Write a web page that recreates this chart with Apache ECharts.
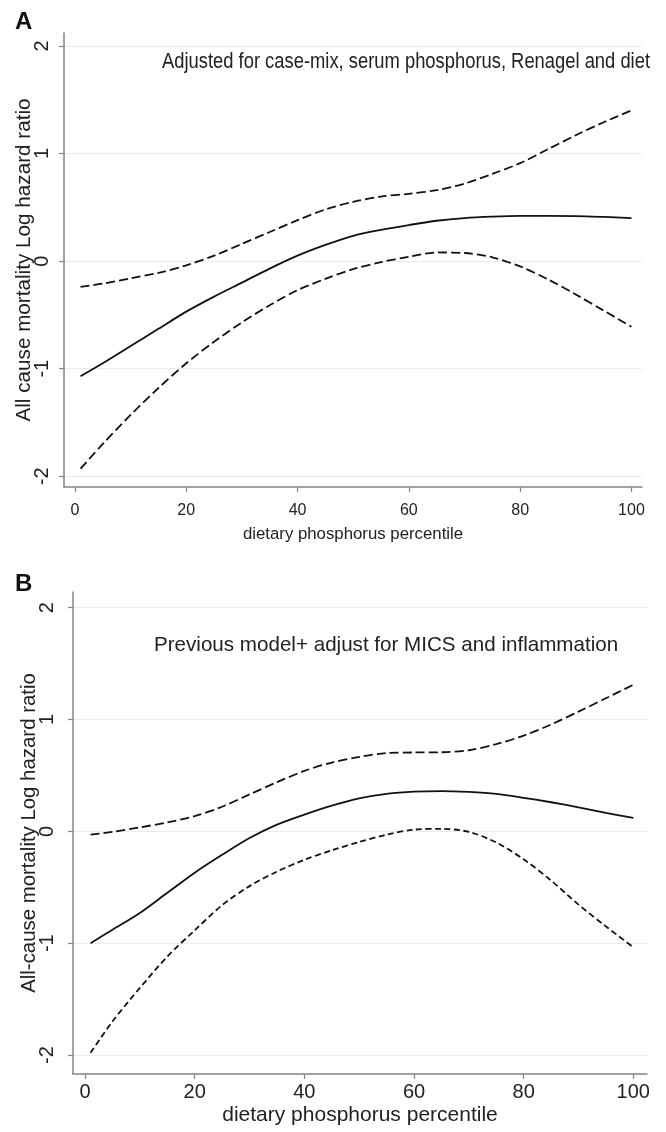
<!DOCTYPE html>
<html>
<head>
<meta charset="utf-8">
<script src="https://cdn.jsdelivr.net/npm/echarts@6/dist/echarts.min.js"></script>
<style>
html,body{margin:0;padding:0;background:#fff;}
#c{width:666px;height:1132px;}
</style>
</head>
<body>
<div id="c"></div>
<script>
// ---- data ----
const percentile = [1,5,10,15,20,25,30,35,40,45,50,55,60,65,70,75,80,85,90,95,100];

const fitA   = [-1.07,-0.95,-0.79,-0.63,-0.47,-0.33,-0.20,-0.07,0.05,0.15,0.235,0.29,0.335,0.375,0.40,0.413,0.42,0.42,0.418,0.41,0.40];
const upperA = [-0.24,-0.21,-0.16,-0.11,-0.04,0.05,0.16,0.27,0.38,0.48,0.55,0.60,0.625,0.66,0.72,0.81,0.91,1.04,1.17,1.29,1.40];
const lowerA = [-1.93,-1.70,-1.43,-1.18,-0.95,-0.75,-0.57,-0.41,-0.27,-0.165,-0.075,-0.01,0.04,0.08,0.075,0.035,-0.05,-0.17,-0.31,-0.46,-0.61];

const fitB   = [-1.00,-0.88,-0.73,-0.55,-0.37,-0.21,-0.06,0.06,0.15,0.23,0.295,0.335,0.355,0.36,0.352,0.335,0.30,0.26,0.215,0.165,0.12];
const upperB = [-0.03,-0.005,0.035,0.08,0.135,0.22,0.33,0.44,0.54,0.615,0.665,0.70,0.705,0.707,0.725,0.78,0.856,0.955,1.07,1.19,1.31];
const lowerB = [-1.98,-1.70,-1.40,-1.12,-0.885,-0.66,-0.49,-0.36,-0.255,-0.17,-0.095,-0.03,0.015,0.022,-0.005,-0.10,-0.25,-0.44,-0.655,-0.85,-1.036];

const xTicks = [0,20,40,60,80,100];
const yTicks = [-2,-1,0,1,2];

const noteA = 'Adjusted for case-mix, serum phosphorus, Renagel and diet';
const noteB = 'Previous model+ adjust for MICS and inflammation';
const xNameA = 'dietary phosphorus percentile';
const xNameB = 'dietary phosphorus percentile';
const yNameA = 'All cause mortality Log hazard ratio';
const yNameB = 'All-cause mortality Log hazard ratio';

// ---- fonts ----
function hasFont(name){
  const c = document.createElement('canvas').getContext('2d');
  const s = 'dietary phosphorus percentile 0123456789';
  c.font = '40px monospace';
  const w0 = c.measureText(s).width;
  c.font = '40px "' + name + '", monospace';
  return Math.abs(c.measureText(s).width - w0) > 0.5;
}
const fam = '"Liberation Sans", Arial, Helvetica, sans-serif';
const narrow = hasFont('Liberation Sans Narrow');
const famA = narrow ? '"Liberation Sans Narrow", ' + fam : fam;
const sA = narrow ? {tick:19.7, name:20.5} : {tick:16, name:16.8};

function pairs(xs, ys){ return xs.map((x,i)=>[x, ys[i]]); }

const axisGray = '#858585';
const txt = '#222';

function xAxisCfg(grid, min, max, name, fontFamily, tickSize, nameSize, labelMargin, nameGap){
  return {
    gridIndex: grid, type:'value', min:min, max:max,
    axisLine:{show:true, onZero:false, lineStyle:{color:axisGray, width:1.5}},
    axisTick:{show:true, customValues:xTicks, length:5, lineStyle:{color:axisGray, width:1.2}},
    axisLabel:{customValues:xTicks, color:txt, fontSize:tickSize, fontFamily:fontFamily, margin:labelMargin},
    splitLine:{show:false},
    name:name, nameLocation:'middle', nameGap:nameGap, nameMoveOverlap:false,
    nameTextStyle:{color:txt, fontSize:nameSize, fontFamily:fontFamily}
  };
}
function yAxisCfg(grid, min, max, name, labelSize, nameSize, labelMargin, nameGap){
  return {
    gridIndex: grid, type:'value', min:min, max:max,
    axisLine:{show:true, onZero:false, lineStyle:{color:axisGray, width:1.5}},
    axisTick:{show:true, customValues:yTicks, length:5, lineStyle:{color:axisGray, width:1.2}},
    axisLabel:{customValues:yTicks, rotate:90, color:txt, fontSize:labelSize, fontFamily:fam, margin:labelMargin},
    splitLine:{show:true, lineStyle:{color:'#ebebeb', width:1}},
    name:name, nameLocation:'middle', nameGap:nameGap, nameMoveOverlap:false,
    nameTextStyle:{color:txt, fontSize:nameSize, fontFamily:fam}
  };
}
function line(xi, yi, data, dash, width){
  return {
    type:'line', xAxisIndex:xi, yAxisIndex:yi, data:data,
    showSymbol:false, smooth:0.3, silent:true,
    lineStyle:{color:'#111', width:width, type:dash}
  };
}

// annotation A is horizontally condensed in the reference
const noteAFont = 22;
const cctx = document.createElement('canvas').getContext('2d');
cctx.font = noteAFont + 'px ' + famA;
const noteAScale = Math.min(1, 488 / cctx.measureText(noteA).width);

const chart = echarts.init(document.getElementById('c'), null, {renderer:'canvas'});
chart.setOption({
  animation:false,
  backgroundColor:'#ffffff',
  grid:[
    {left:64, top:33, width:578, height:454},
    {left:73, top:592, width:574, height:482}
  ],
  xAxis:[
    xAxisCfg(0, -1.97, 101.9, xNameA, famA, sA.tick, sA.name, 16, 39),
    xAxisCfg(1, -2.2, 102.5, xNameB, fam, 20, 21, 8, 31)
  ],
  yAxis:[
    yAxisCfg(0, -2.10, 2.12, yNameA, 20, 20.7, 12, 29),
    yAxisCfg(1, -2.17, 2.14, yNameB, 20, 20.4, 16, 34)
  ],
  graphic:[
    {type:'text', x:15, y:22, style:{text:'A', font:'bold 24px ' + fam, fill:'#111', align:'left', verticalAlign:'middle'}},
    {type:'text', x:15, y:584, style:{text:'B', font:'bold 24px ' + fam, fill:'#111', align:'left', verticalAlign:'middle'}},
    {type:'text', x:162, y:62, scaleX:noteAScale, style:{text:noteA, font:noteAFont + 'px ' + famA, fill:txt, align:'left', verticalAlign:'middle'}},
    {type:'text', x:154, y:645, style:{text:noteB, font:'20.6px ' + fam, fill:txt, align:'left', verticalAlign:'middle'}}
  ],
  series:[
    line(0,0,pairs(percentile, upperA), [9,4], 1.8),
    line(0,0,pairs(percentile, fitA), 'solid', 1.8),
    line(0,0,pairs(percentile, lowerA), [9,4], 1.8),
    line(1,1,pairs(percentile, upperB), [9,4], 1.8),
    line(1,1,pairs(percentile, fitB), 'solid', 1.8),
    line(1,1,pairs(percentile, lowerB), [6,3.5], 1.8)
  ]
});
</script>
</body>
</html>
